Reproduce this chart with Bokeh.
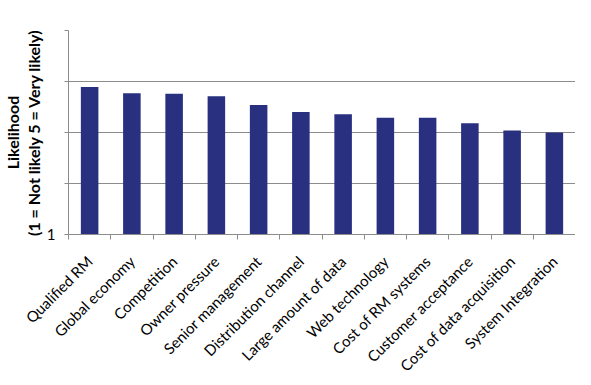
import math
from bokeh.plotting import figure
from bokeh.models import FixedTicker, Range1d, Title
from bokeh.embed import file_html
from bokeh.resources import INLINE

categories = ["Qualified RM", "Global economy", "Competition", "Owner pressure",
              "Senior management", "Distribution channel", "Large amount of data",
              "Web technology", "Cost of RM systems", "Customer acceptance",
              "Cost of data acquisition", "System Integration"]
likelihood = [3.89, 3.77, 3.76, 3.71, 3.54, 3.40, 3.36, 3.29, 3.29, 3.18, 3.04, 3.00]
y_ticks = [1, 2, 3, 4, 5]
y_tick_labels = ["1", "", "", "", ""]
y_title_1 = "Likelihood"
y_title_2 = "(1 = Not likely 5 = Very likely)"

n = len(categories)
positions = [i + 0.5 for i in range(n)]
boundaries = list(range(n + 1))

FONT = "Lato"
GRAY = "#8c8c8c"

p = figure(width=575, height=383, output_backend="svg", toolbar_location=None,
           x_range=Range1d(0, n), y_range=Range1d(y_ticks[0], y_ticks[-1]),
           min_border_top=30, min_border_bottom=149, min_border_right=0,
           min_border_left=65, outline_line_color=None)

p.vbar(x=positions, top=likelihood, bottom=y_ticks[0], width=0.415,
       fill_color="#29307F", line_color=None)

xa = p.xaxis[0]
xa.ticker = FixedTicker(ticks=positions, minor_ticks=boundaries)
xa.major_label_overrides = {pos: name for pos, name in zip(positions, categories)}
xa.major_tick_line_color = None
xa.minor_tick_line_color = GRAY
xa.minor_tick_out = 5
xa.minor_tick_in = 0
xa.axis_line_color = GRAY
xa.major_label_orientation = math.pi / 4
xa.major_label_text_font = FONT
xa.major_label_text_font_size = "15px"
xa.major_label_text_color = "black"
xa.major_label_standoff = 18

ya = p.yaxis[0]
ya.ticker = FixedTicker(ticks=y_ticks, minor_ticks=[])
ya.major_label_overrides = {t: lab for t, lab in zip(y_ticks, y_tick_labels)}
ya.major_tick_line_color = GRAY
ya.major_tick_out = 4
ya.major_tick_in = 0
ya.minor_tick_line_color = None
ya.axis_line_color = GRAY
ya.major_label_text_font = FONT
ya.major_label_text_font_size = "15px"
ya.major_label_text_color = "black"
ya.major_label_standoff = 9

p.xgrid.visible = False
p.ygrid.ticker = FixedTicker(ticks=y_ticks, minor_ticks=[])
p.ygrid.grid_line_color = GRAY

t2 = Title(text=y_title_2, align="center", offset=13, standoff=1, text_font=FONT,
           text_font_size="16px", text_font_style="bold", text_color="black")
p.add_layout(t2, "left")
t1 = Title(text=y_title_1, align="center", offset=13, standoff=0, text_font=FONT,
           text_font_size="16px", text_font_style="bold", text_color="black")
p.add_layout(t1, "left")

open("out.html", "w").write(file_html(p, INLINE))
